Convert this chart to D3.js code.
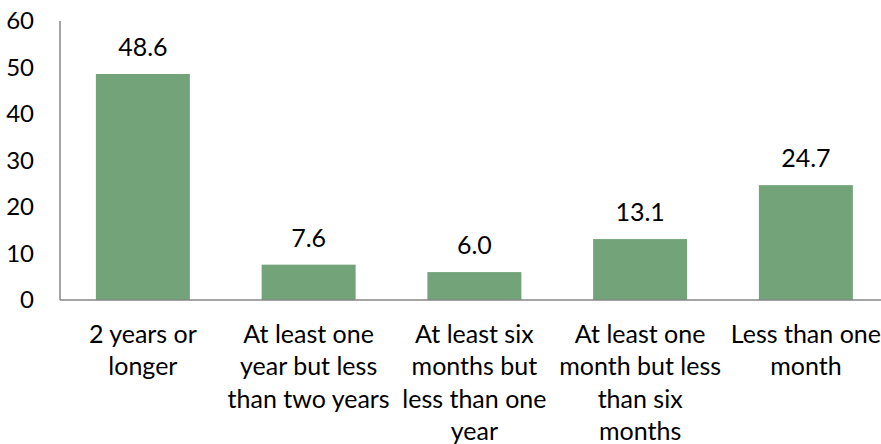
<!DOCTYPE html>
<meta charset="utf-8">
<style type="text/css">
  body { margin: 0; background: #fff; }
  text { font-family: Lato, "Open Sans", sans-serif; fill: #000; }
  .bar { fill: #72a379; }
  .domain-line { stroke: #868686; stroke-width: 1.5; fill: none; }
</style>
<body>
</body>
<script src="https://d3js.org/d3.v7.min.js"></script>
<script>
  // categories, with the line breaks as they appear under the bars
  var categories = [
    "2 years or longer",
    "At least one year but less than two years",
    "At least six months but less than one year",
    "At least one month but less than six months",
    "Less than one month"
  ];
  var categoryLines = [
    ["2 years or", "longer"],
    ["At least one", "year but less", "than two years"],
    ["At least six", "months but", "less than one", "year"],
    ["At least one", "month but less", "than six", "months"],
    ["Less than one", "month"]
  ];
  var values = [48.6, 7.6, 6.0, 13.1, 24.7];
  var yTicks = [0, 10, 20, 30, 40, 50, 60];

  var width = 881, height = 444;
  var x0 = 60, yTop = 21, yBottom = 300;
  var step = 165.75;

  var svg = d3.select("body").append("svg")
    .attr("width", width)
    .attr("height", height);

  var xScale = d3.scaleBand()
    .domain(categories)
    .range([x0, x0 + step * categories.length])
    .paddingInner(0.433)
    .paddingOuter(0.433 / 2);

  var yScale = d3.scaleLinear()
    .domain([0, 60])
    .range([yBottom, yTop]);

  // y axis: labels only, plus the vertical line
  var yAxis = d3.axisLeft(yScale)
    .tickValues(yTicks)
    .tickSize(0)
    .tickPadding(26);

  var gy = svg.append("g")
    .attr("transform", "translate(" + x0 + ",0)")
    .call(yAxis);
  gy.select(".domain").remove();
  gy.selectAll("text")
    .attr("font-family", null)
    .style("font-size", "24px");

  svg.append("line")
    .attr("class", "domain-line")
    .attr("x1", x0).attr("x2", x0)
    .attr("y1", yScale(60)).attr("y2", yScale(0));

  // bars
  svg.selectAll(".bar")
    .data(values)
    .enter().append("rect")
    .attr("class", "bar")
    .attr("x", function(d, i) { return xScale(categories[i]); })
    .attr("width", xScale.bandwidth())
    .attr("y", function(d) { return yScale(d); })
    .attr("height", function(d) { return yScale(0) - yScale(d); });

  // baseline
  svg.append("line")
    .attr("class", "domain-line")
    .attr("x1", x0).attr("x2", width)
    .attr("y1", yScale(0)).attr("y2", yScale(0));

  // value labels
  svg.selectAll(".value")
    .data(values)
    .enter().append("text")
    .attr("class", "value")
    .attr("x", function(d, i) { return xScale(categories[i]) + xScale.bandwidth() / 2; })
    .attr("y", function(d) { return yScale(d) - 18; })
    .attr("text-anchor", "middle")
    .style("font-size", "25px")
    .text(function(d) { return d.toFixed(1); });

  // category labels
  var cat = svg.selectAll(".cat")
    .data(categoryLines)
    .enter().append("text")
    .attr("class", "cat")
    .attr("text-anchor", "middle")
    .style("font-size", "25px")
    .attr("transform", function(d, i) {
      return "translate(" + (xScale(categories[i]) + xScale.bandwidth() / 2) + ",342.5)";
    });

  cat.selectAll("tspan")
    .data(function(d) { return d; })
    .enter().append("tspan")
    .attr("x", 0)
    .attr("y", function(d, j) { return j * 32.5; })
    .text(function(d) { return d; });
</script>
